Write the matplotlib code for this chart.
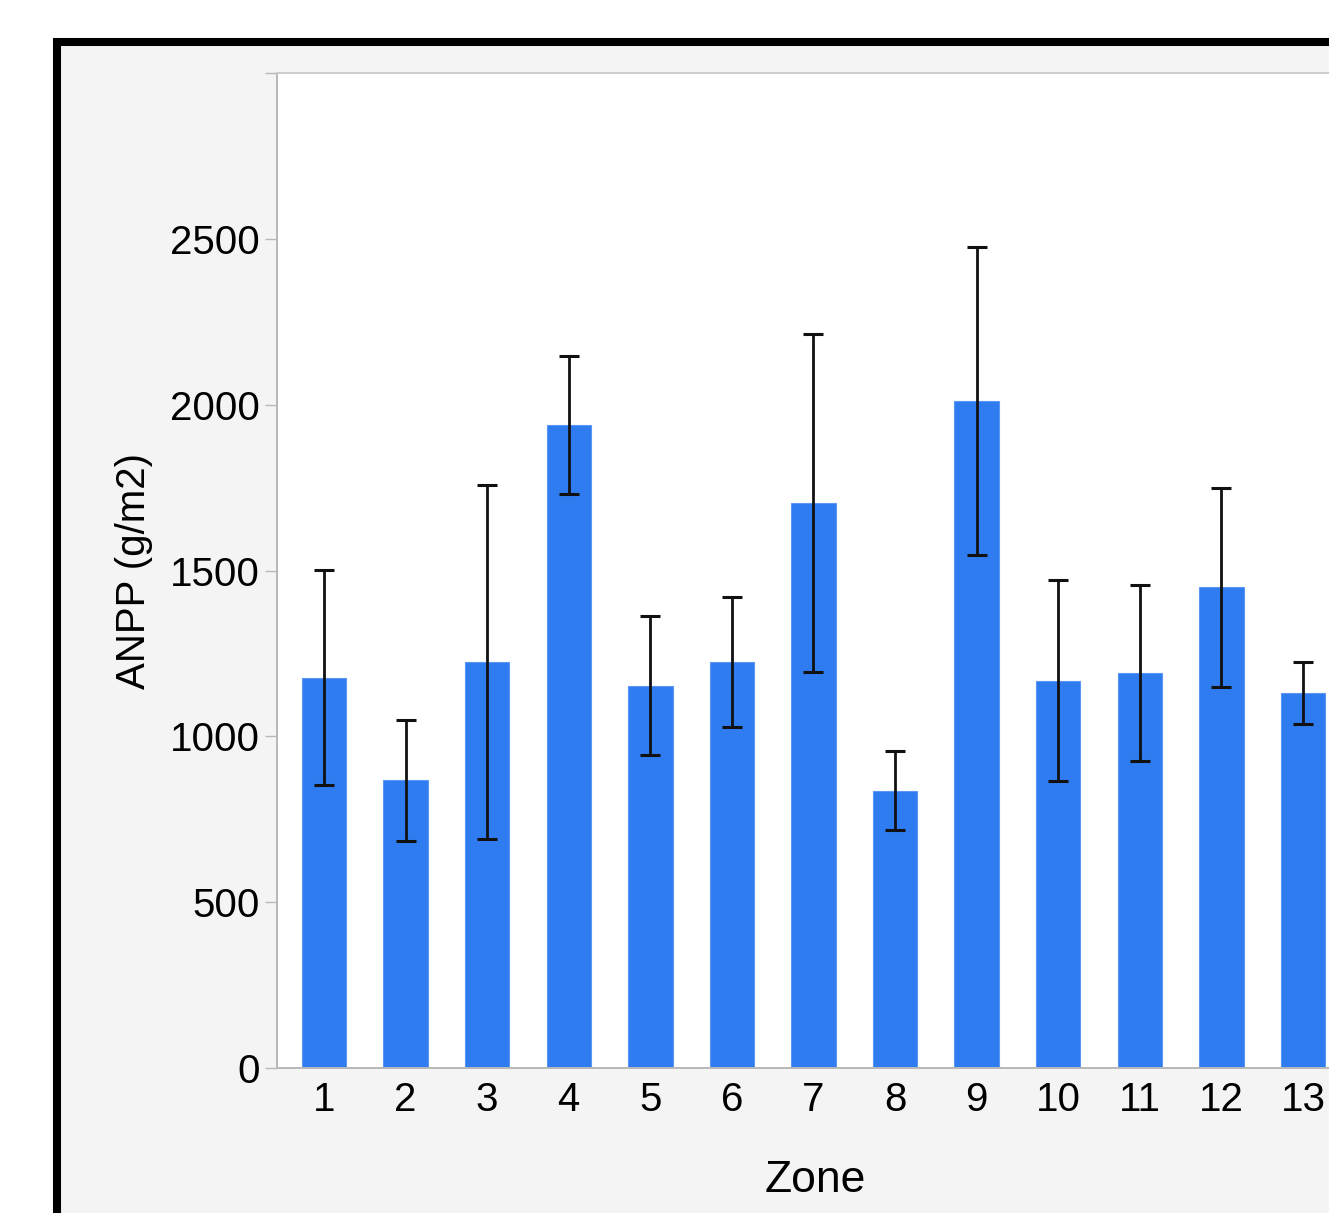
import matplotlib.pyplot as plt
from matplotlib.patches import Rectangle

plt.rcParams['font.family'] = ['Liberation Sans', 'DejaVu Sans']

# data
zones = [1, 2, 3, 4, 5, 6, 7, 8, 9, 10, 11, 12, 13]
anpp = [1177, 867, 1224, 1940, 1153, 1223, 1705, 836, 2011, 1168, 1190, 1449, 1130]
anpp_err = [325, 183, 535, 208, 210, 196, 510, 118, 464, 303, 266, 301, 93]
yticks = [0, 500, 1000, 1500, 2000, 2500, 3000]
ytick_labels = ['0', '500', '1000', '1500', '2000', '2500', '']

W, H = 1329, 1213
fig = plt.figure(figsize=(W / 100, H / 100), dpi=100, facecolor='white')

# framed grey panel (runs off the right and bottom edges)
frame = Rectangle((57 / W, -0.1), 2, 1 - 42 / H + 0.1, transform=fig.transFigure,
                  facecolor='#f4f4f4', edgecolor='black', linewidth=5.8, zorder=-10)
fig.patches.append(frame)

left = 277 / W
bottom = (H - 1067.7) / H
top = (H - 73.3) / H
ax = fig.add_axes([left, bottom, 1 - left, top - bottom])
ax.set_facecolor('white')

ax.bar(zones, anpp, width=0.545, color='#2f7bf0', edgecolor='#5b97f3', linewidth=0.8, zorder=2)
ax.errorbar(zones, anpp, yerr=anpp_err, fmt='none', ecolor='#111111',
            elinewidth=2.0, capsize=7.5, capthick=2.2, zorder=3)

ax.set_xlim(0.424, 13.319)
ax.set_ylim(0, 3000)
ax.set_xticks(zones)
ax.set_xticklabels([str(z) for z in zones])
ax.set_yticks(yticks)
ax.set_yticklabels(ytick_labels)

for side in ['left', 'bottom']:
    ax.spines[side].set_color('#b8b8b8')
    ax.spines[side].set_linewidth(1.4)
ax.spines['top'].set_color('#cccccc')
ax.spines['top'].set_linewidth(1.4)
ax.spines['right'].set_visible(False)

ax.tick_params(axis='y', length=8.6, width=1.0, color='#b8b8b8', pad=3.6, labelsize=29)
ax.tick_params(axis='x', length=0, pad=9.5, labelsize=29)

fig.text(815 / W, (H - 1192) / H, 'Zone', ha='center', va='baseline', fontsize=32)
fig.text(134 / W, (H - 571) / H, 'ANPP (g/m2)', ha='center', va='center',
         rotation=90, fontsize=29)

fig.savefig('out.png', dpi=100)
